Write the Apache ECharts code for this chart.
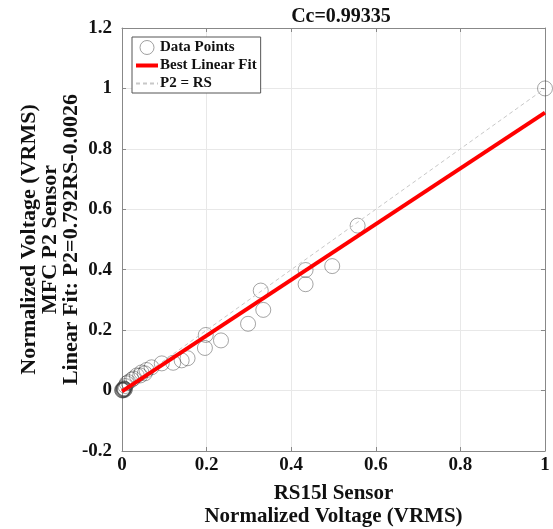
<!DOCTYPE html>
<html>
<head>
<meta charset="utf-8">
<script src="https://cdn.jsdelivr.net/npm/echarts@6/dist/echarts.min.js"></script>
<style>
  html, body { margin: 0; padding: 0; background: #fff; }
  #chart { width: 553px; height: 529px; }
</style>
</head>
<body>
<div id="chart"></div>
<script>
// data points (RS15l vs MFC P2, normalized)
var rsX = [1.0, 0.557, 0.497, 0.434, 0.434, 0.328, 0.334, 0.298, 0.234, 0.198, 0.196,
  0.155, 0.141, 0.121, 0.094, 0.070, 0.058, 0.054, 0.046, 0.043, 0.035, 0.027, 0.023,
  0.015, 0.011, 0.008, 0.004, 0.006, 0.003, 0.005, 0.002, 0.007, 0.001, 0.004, 0.0];
var p2Y = [1.0, 0.546, 0.412, 0.399, 0.352, 0.331, 0.267, 0.221, 0.166, 0.184, 0.141,
  0.107, 0.100, 0.092, 0.090, 0.077, 0.068, 0.057, 0.060, 0.050, 0.050, 0.040, 0.036,
  0.028, 0.024, 0.015, 0.004, 0.002, 0.001, 0.006, 0.003, 0.005, 0.000, 0.008, 0.002];

// fitted line as drawn, and the P2 = RS reference
var fitX = [0, 1];
var fitY = [-0.0026, 0.92];
var refX = [0, 1];
var refY = [0, 1];

var xTicks = { min: 0, max: 1, interval: 0.2 };
var yTicks = { min: -0.2, max: 1.2, interval: 0.2 };

var font = '"Liberation Serif", "Times New Roman", serif';

function pairs(xs, ys) {
  var out = [];
  for (var i = 0; i < xs.length; i++) out.push([xs[i], ys[i]]);
  return out;
}

var chart = echarts.init(document.getElementById('chart'));

var option = {
  backgroundColor: '#fff',
  animation: false,
  title: {
    text: 'Cc=0.99335',
    left: 336,
    textAlign: 'center',
    top: 2,
    textStyle: { fontFamily: font, fontWeight: 'bold', fontSize: 20, color: '#111' }
  },
  legend: {
    orient: 'vertical',
    left: 132,
    top: 37,
    padding: [3, 4, 2, 2],
    itemGap: 3,
    itemWidth: 22,
    itemHeight: 14,
    borderColor: '#555',
    borderWidth: 1,
    backgroundColor: '#fff',
    textStyle: { fontFamily: font, fontWeight: 'bold', fontSize: 15, color: '#111', padding: [0, 0, 0, -3] },
    data: [
      { name: 'Data Points', icon: 'circle', itemStyle: { color: '#fff', borderColor: '#888', borderWidth: 1 } },
      { name: 'Best Linear Fit', itemStyle: { opacity: 0 }, lineStyle: { width: 4, color: '#f00' } },
      { name: 'P2 = RS', itemStyle: { opacity: 0 } }
    ]
  },
  grid: { left: 122, right: 8, top: 28, bottom: 78, outerBoundsMode: 'none' },
  xAxis: [
    {
      type: 'value',
      min: xTicks.min, max: xTicks.max, interval: xTicks.interval,
      name: 'RS15l Sensor\nNormalized Voltage (VRMS)',
      nameLocation: 'middle',
      nameGap: 31,
      nameMoveOverlap: false,
      nameTextStyle: { fontFamily: font, fontWeight: 'bold', fontSize: 21, color: '#111', lineHeight: 23 },
      axisLine: { show: true, onZero: false, lineStyle: { color: '#888' } },
      axisTick: { show: true, inside: true, length: 4, lineStyle: { color: '#888' } },
      axisLabel: { fontFamily: font, fontWeight: 'bold', fontSize: 19, color: '#111', margin: 5 },
      splitLine: { show: true, lineStyle: { color: '#e8e8e8' } }
    },
    {
      type: 'value', position: 'top',
      min: xTicks.min, max: xTicks.max, interval: xTicks.interval,
      axisLine: { show: true, onZero: false, lineStyle: { color: '#888' } },
      axisTick: { show: true, inside: true, length: 4, lineStyle: { color: '#888' } },
      axisLabel: { show: false },
      splitLine: { show: false }
    }
  ],
  yAxis: [
    {
      type: 'value',
      min: yTicks.min, max: yTicks.max, interval: yTicks.interval,
      name: 'Normalized Voltage (VRMS)\nMFC P2 Sensor\nLinear Fit: P2=0.792RS-0.0026',
      nameLocation: 'middle',
      nameGap: 40,
      nameMoveOverlap: false,
      nameRotate: 90,
      nameTextStyle: { fontFamily: font, fontWeight: 'bold', fontSize: 22, color: '#111', lineHeight: 21 },
      axisLine: { show: true, onZero: false, lineStyle: { color: '#888' } },
      axisTick: { show: true, inside: true, length: 4, lineStyle: { color: '#888' } },
      axisLabel: { fontFamily: font, fontWeight: 'bold', fontSize: 19, color: '#111', margin: 10 },
      splitLine: { show: true, lineStyle: { color: '#e8e8e8' } }
    },
    {
      type: 'value', position: 'right',
      min: yTicks.min, max: yTicks.max, interval: yTicks.interval,
      axisLine: { show: true, onZero: false, lineStyle: { color: '#888' } },
      axisTick: { show: true, inside: true, length: 4, lineStyle: { color: '#888' } },
      axisLabel: { show: false },
      splitLine: { show: false }
    }
  ],
  series: [
    {
      name: 'Data Points',
      type: 'scatter',
      data: pairs(rsX, p2Y),
      symbol: 'circle',
      symbolSize: 15,
      itemStyle: { color: 'rgba(255,255,255,0)', borderColor: 'rgba(50,50,50,0.55)', borderWidth: 1 },
      z: 2
    },
    {
      name: 'P2 = RS',
      type: 'line',
      data: pairs(refX, refY),
      symbol: 'none',
      lineStyle: { color: '#c8c8c8', width: 1, type: [4, 3] },
      itemStyle: { color: '#c8c8c8' },
      z: 3
    },
    {
      name: 'Best Linear Fit',
      type: 'line',
      data: pairs(fitX, fitY),
      symbol: 'none',
      lineStyle: { color: '#f00', width: 4 },
      itemStyle: { color: '#f00' },
      z: 4
    }
  ]
};

chart.setOption(option);
window.addEventListener('resize', function () {
  chart.resize();
});
</script>
</body>
</html>
